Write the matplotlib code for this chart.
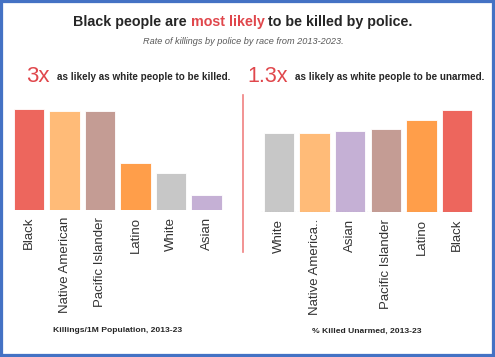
import matplotlib
matplotlib.use("Agg")
import matplotlib.pyplot as plt
from matplotlib.patches import Rectangle
from matplotlib.lines import Line2D

# data
left_races = ["Black", "Native American", "Pacific Islander", "Latino", "White", "Asian"]
left_rate = [6.77, 6.63, 6.63, 3.15, 2.48, 1.0]   # killings per 1M population

right_races = ["White", "Native America..", "Asian", "Pacific Islander", "Latino", "Black"]
right_pct = [11.0, 11.0, 11.3, 11.6, 12.8, 14.2]  # % killed unarmed

race_colors = {
    "Black": "#ed665d",
    "Native American": "#ffbb78",
    "Native America..": "#ffbb78",
    "Pacific Islander": "#c49c94",
    "Latino": "#ff9e4a",
    "White": "#c7c7c7",
    "Asian": "#c5b0d5",
}

RED = "#e0474c"
DARK = "#262626"
plt.rcParams["font.family"] = ["Liberation Sans", "DejaVu Sans"]

W, H = 495, 357
fig = plt.figure(figsize=(W / 100, H / 100), dpi=100)


def fx(px):
    return px / W


def fy(py):
    return 1 - py / H


# blue frame
fig.patches.append(Rectangle((0, 0), 1, 1, transform=fig.transFigure,
                             fill=False, edgecolor="#4472c4", linewidth=4.5))

# title in pieces so "most likely" can be red
renderer = fig.canvas.get_renderer()
pieces = [("Black people are ", DARK), ("most likely", RED), (" to be killed by police.", DARK)]
texts = []
for s, c in pieces:
    t = fig.text(0, fy(22), s, color=c, fontsize=10.3, fontweight="bold",
                 va="center", ha="left")
    texts.append(t)
widths = [t.get_window_extent(renderer).width for t in texts]
x = 243 - sum(widths) / 2
for t, w in zip(texts, widths):
    t.set_x(fx(x))
    x += w

fig.text(fx(243), fy(42), "Rate of killings by police by race from 2013-2023.",
         fontsize=6.6, style="italic", color="#595959", ha="center", va="center")

# callouts
fig.text(fx(26), fy(77), "3x", color=RED, fontsize=16, va="center", ha="left")
fig.text(fx(57), fy(77), "as likely as white people to be killed.", color=DARK,
         fontsize=7.1, fontweight="bold", va="center", ha="left")
fig.text(fx(247), fy(77), "1.3x", color=RED, fontsize=15.5, va="center", ha="left")
fig.text(fx(295), fy(77), "as likely as white people to be unarmed.", color=DARK,
         fontsize=7.1, fontweight="bold", va="center", ha="left")

# divider
fig.lines.append(Line2D([fx(243), fx(243)], [fy(95), fy(252)], transform=fig.transFigure,
                        color="#f08080", linewidth=1.2))

# left chart
ax1 = fig.add_axes([fx(11.25), fy(210), fx(213), (210 - 100) / H])
ax1.bar(range(len(left_races)), left_rate, width=0.87,
        color=[race_colors[r] for r in left_races], edgecolor="white", linewidth=0.6)
ax1.set_xlim(-0.5, 5.5)
ax1.set_ylim(0, 6.77 * 110 / 101)

# right chart
ax2 = fig.add_axes([fx(261.2), fy(212), fx(213.6), (212 - 100) / H])
ax2.bar(range(len(right_races)), right_pct, width=0.85,
        color=[race_colors[r] for r in right_races], edgecolor="white", linewidth=0.6)
ax2.set_xlim(-0.5, 5.5)
ax2.set_ylim(0, 14.2 * 112 / 102)
ax2.axhline(0, color="#999999", linewidth=0.8, linestyle=(0, (1, 1.5)))

for ax, labels in ((ax1, left_races), (ax2, right_races)):
    ax.set_xticks(range(len(labels)))
    ax.set_xticklabels(labels, rotation=90, fontsize=9.5, color="#333333")
    ax.tick_params(axis="x", length=0, pad=5)
    ax.set_yticks([])
    for sp in ax.spines.values():
        sp.set_visible(False)
    ax.patch.set_alpha(0)

fig.text(fx(118), fy(331), "Killings/1M Population, 2013-23", fontsize=6.1,
         fontweight="bold", color=DARK, ha="center", va="center")
fig.text(fx(367), fy(331), "% Killed Unarmed, 2013-23", fontsize=6.1,
         fontweight="bold", color=DARK, ha="center", va="center")

fig.savefig("out.png", dpi=100)
